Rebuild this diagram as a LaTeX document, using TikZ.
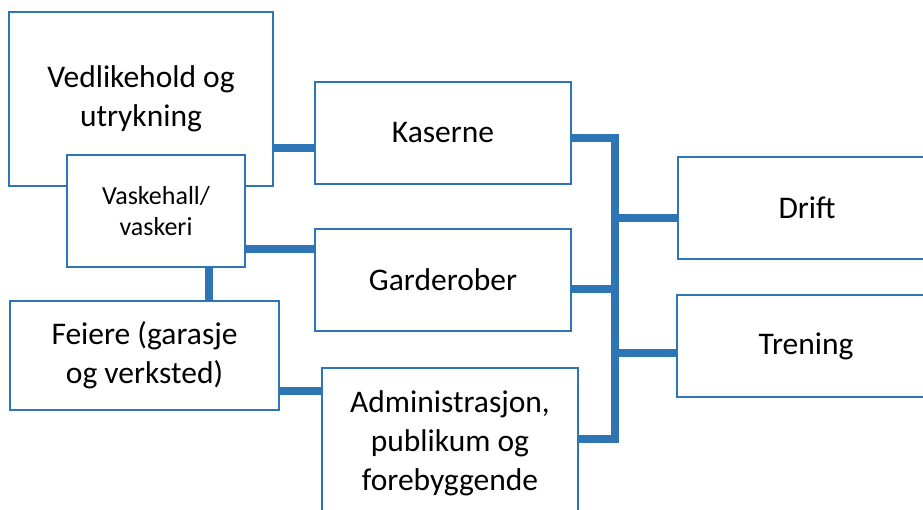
\documentclass[tikz,border=0pt]{standalone}
\usepackage{fontspec}
\setmainfont{Carlito}
\definecolor{lineBlue}{RGB}{46,117,182}

\begin{document}
\begin{tikzpicture}[x=1pt, y=-1pt,
rectBig/.style={rectangle, draw=lineBlue, line width=2pt, fill=white, minimum width=256pt, minimum height=102pt, align=center, font=\fontsize{31.5}{39}\selectfont},
rectSmall/.style={rectangle, draw=lineBlue, line width=2pt, fill=white, minimum width=178pt, minimum height=112pt, align=center, font=\fontsize{26}{31.5}\selectfont},
link/.style={draw=lineBlue, line width=7.5pt}]

\useasboundingbox (0,0) rectangle (923,509);

\coordinate (bus) at (615,0);

\node[rectBig, minimum width=264pt, minimum height=174pt] (vedlikehold) at (141,99) {Vedlikehold og\\utrykning};
\node[rectSmall] (vaskehall) at (156,211) {Vaskehall/\\vaskeri};
\node[rectBig, minimum width=269pt, minimum height=109pt] (feiere) at (144.5,355.5) {Feiere (garasje\\og verksted)};

\node[rectBig] (kaserne) at (443,133) {Kaserne};
\node[rectBig] (garderober) at (443,280) {Garderober};
\node[rectBig, minimum height=150pt] (admin) at (450,443) {Administrasjon,\\publikum og\\forebyggende};

\node[rectBig, minimum width=258pt] (drift) at (807,208) {Drift};
\node[rectBig, minimum width=258pt] (trening) at (806,346) {Trening};

% ends of the connectors
\coordinate (kIn) at ([yshift=-15pt]kaserne.west);
\coordinate (gIn) at ([yshift=31pt]garderober.west);
\coordinate (vOut) at ([xshift=53pt]vaskehall.south);
\coordinate (fOut) at ([yshift=-35.5pt]feiere.east);
\coordinate (kOut) at ([yshift=-5pt]kaserne.east);
\coordinate (gOut) at ([yshift=-9pt]garderober.east);
\coordinate (aOut) at ([yshift=4pt]admin.east);
\coordinate (dIn) at ([yshift=-10pt]drift.west);
\coordinate (tIn) at ([yshift=-7pt]trening.west);

\draw[link] (kOut) -| (bus |- aOut) -- (aOut);

\path[link] (vedlikehold.east |- kIn)  edge  (kIn)
            (vaskehall.east |- gIn)    edge  (gIn)
            (vOut)                     edge  (vOut |- feiere.north)
            (fOut)                     edge  (fOut -| admin.west)
            (gOut)                     edge  (gOut -| bus)
            (bus |- dIn)               edge  (dIn)
            (bus |- tIn)               edge  (tIn);

\end{tikzpicture}
\end{document}
